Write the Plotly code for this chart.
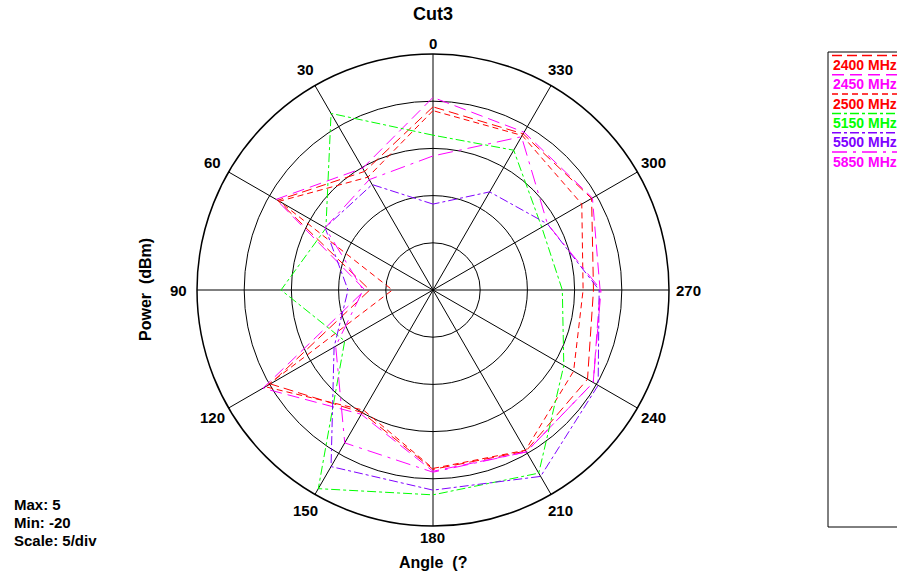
import math
import plotly.graph_objects as go

angles = [0, 30, 60, 90, 120, 150, 180, 210, 240, 270, 300, 330]
angle_labels = ["0", "30", "60", "90", "120", "150", "180", "210", "240", "270", "300", "330"]

p2400 = [-0.6, -5.5, -1.0, -13.3, -0.1, -5.0, -1.0, -0.3, -1.1, -3.0, -0.6, -0.9]
p2450 = [0.4, -5.1, -0.8, -12.8, 0.8, -4.8, -0.8, -0.2, -0.4, -2.3, -0.5, -0.7]
p2500 = [-1.0, -6.2, -1.2, -15.7, 0.5, -5.3, -1.1, -0.4, -2.8, -4.1, -1.8, -1.1]
p5150 = [-3.6, 1.6, -6.9, -3.9, -9.2, 4.3, 1.7, 2.4, -4.0, -6.3, -6.7, -2.9]
p5500 = [-10.9, -7.1, -6.8, -11.0, -7.9, 1.6, 1.2, 2.8, 0.2, -2.4, -6.0, -8.0]
p5850 = [-5.8, -6.5, -6.8, -12.6, -8.1, -1.3, -0.7, -0.2, -0.4, -2.2, -6.0, -1.25]

series_names = ["2400 MHz", "2450 MHz", "2500 MHz", "5150 MHz", "5500 MHz", "5850 MHz"]
series_vals = [p2400, p2450, p2500, p5150, p5500, p5850]
colors = ["#FF0000", "#FF00FF", "#FF0000", "#00FF00", "#8000FF", "#FF00FF"]
dashes = ["10px,5px", "12px,6px", "6px,4px", "dashdot", "dashdot", "longdashdot"]

W, H = 897, 578
cx, cy, R = 433, 290, 236

fig = go.Figure()
for name, vals, c, d in zip(series_names, series_vals, colors, dashes):
    fig.add_trace(go.Scatterpolar(
        r=vals + [vals[0]], theta=angles + [angles[0]], mode="lines", name=name,
        line=dict(color=c, width=1, dash=d), showlegend=False))

font = "Liberation Sans, Arial, sans-serif"
fig.update_layout(
    width=W, height=H, margin=dict(l=0, r=0, t=0, b=0),
    paper_bgcolor="white", plot_bgcolor="white",
    font=dict(family=font, color="black", size=15),
    polar=dict(
        domain=dict(x=[(cx - R) / W, (cx + R) / W], y=[(H - cy - R) / H, (H - cy + R) / H]),
        bgcolor="white",
        angularaxis=dict(rotation=90, direction="counterclockwise",
                         tickmode="array", tickvals=angles, showticklabels=False,
                         showline=True, linecolor="black", linewidth=1.5,
                         gridcolor="black", gridwidth=1, ticks=""),
        radialaxis=dict(range=[-20, 5], tickvals=[-15, -10, -5, 0], showticklabels=False,
                        showline=False, gridcolor="black", gridwidth=1.2, ticks=""),
    ),
)

def px_x(x):
    return x / W

def px_y(y):
    return 1 - y / H

ann = []
# angular tick labels placed just outside the outer circle
for a, t in zip(angles, angle_labels):
    rr = 247 if a % 180 == 0 else 255
    x = cx - rr * math.sin(math.radians(a))
    y = cy - rr * math.cos(math.radians(a))
    ann.append(dict(x=px_x(x), y=px_y(y), text="<b>%s</b>" % t, font=dict(size=15)))
ann.append(dict(x=px_x(cx), y=px_y(14), text="<b>Cut3</b>", font=dict(size=18)))
ann.append(dict(x=px_x(cx), y=px_y(562), text="<b>Angle\u00a0\u00a0(?</b>", font=dict(size=16)))
ann.append(dict(x=px_x(145), y=px_y(290), text="<b>Power\u00a0\u00a0(dBm)</b>",
                textangle=-90, font=dict(size=16)))
for i, t in enumerate(["Max: 5", "Min: -20", "Scale: 5/div"]):
    ann.append(dict(x=px_x(12), y=px_y(504 + 18 * i), text="<b>%s</b>" % t,
                    xanchor="left", font=dict(size=15)))
shapes = [dict(type="rect", xref="paper", yref="paper", x0=px_x(828), x1=px_x(905),
               y0=px_y(527), y1=px_y(52), line=dict(color="black", width=1))]
for i, (name, c, d) in enumerate(zip(series_names, colors, dashes)):
    yc = 65 + 19.3 * i
    ann.append(dict(x=px_x(831), y=px_y(yc), text="<b>%s</b>" % name, xanchor="left",
                    font=dict(size=14, color=c)))
    shapes.append(dict(type="line", xref="paper", yref="paper", x0=px_x(832), x1=px_x(897),
                       y0=px_y(yc - 9.5), y1=px_y(yc - 9.5), line=dict(color=c, width=1.5, dash=d)))
for a in ann:
    a.setdefault("xref", "paper")
    a.setdefault("yref", "paper")
    a.setdefault("showarrow", False)
    a.setdefault("xanchor", "center")
    a["yanchor"] = "middle"
fig.update_layout(annotations=ann, shapes=shapes)
fig.write_html("out.html", config={"displayModeBar": False},
               post_script="document.body.style.margin='0';document.body.style.overflow='hidden';")
